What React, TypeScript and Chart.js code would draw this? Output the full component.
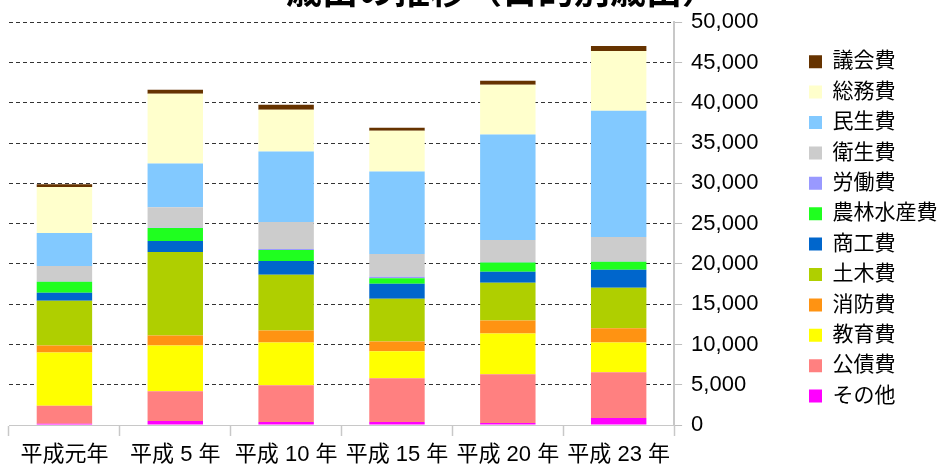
import React, { useEffect, useRef } from 'react';
import { Chart, registerables } from 'chart.js';

Chart.register(...registerables);

const TITLE = '歳出の推移（目的別歳出）';

const categories = ['平成元年', '平成 5 年', '平成 10 年', '平成 15 年', '平成 20 年', '平成 23 年'];

// bottom of the stack first
const sonota = [150, 490, 370, 370, 250, 860];
const kousaihi = [2230, 3710, 4570, 5430, 6050, 5680];
const kyouikuhi = [6630, 5680, 5310, 3340, 5060, 3710];
const shoubouhi = [870, 1230, 1480, 1230, 1600, 1770];
const dobokuhi = [5550, 10370, 6910, 5310, 4690, 5020];
const shoukouhi = [990, 1360, 1730, 1850, 1360, 2220];
const nourinhi = [1360, 1600, 1360, 700, 1150, 990];
const roudouhi = [40, 40, 120, 170, 60, 40];
const eiseihi = [1930, 2560, 3340, 2830, 2750, 3040];
const minseihi = [4080, 5430, 8760, 10250, 13090, 15680];
const soumuhi = [5710, 8640, 5190, 5060, 6170, 7410];
const gikaihi = [360, 490, 610, 370, 500, 620];

const seriesNames = ['その他', '公債費', '教育費', '消防費', '土木費', '商工費', '農林水産費', '労働費', '衛生費', '民生費', '総務費', '議会費'];
const seriesValues = [sonota, kousaihi, kyouikuhi, shoubouhi, dobokuhi, shoukouhi, nourinhi, roudouhi, eiseihi, minseihi, soumuhi, gikaihi];
const seriesColors = ['#ff00ff', '#ff8080', '#ffff00', '#ff9312', '#afcf00', '#0066cc', '#1fff1f', '#9999ff', '#cccccc', '#82c9ff', '#ffffcc', '#663300'];

const yMin = 0;
const yMax = 50000;
const yStep = 5000;

const FONT = '"Liberation Sans", "Noto Sans CJK JP", sans-serif';

const titlePlugin = {
  id: 'clippedTitle',
  afterDraw(chart: any) {
    const ctx = chart.ctx;
    ctx.save();
    ctx.font = 'bold 36px "Noto Sans CJK JP", sans-serif';
    ctx.fillStyle = '#000';
    ctx.textAlign = 'center';
    ctx.textBaseline = 'alphabetic';
    ctx.fillText(TITLE, 502, 4);
    ctx.restore();
  },
};

const legendPlacer = {
  id: 'legendPlacer',
  afterLayout(chart: any) {
    const lg = chart.legend;
    if (!lg) return;
    const w = lg.right - lg.left;
    lg.left = 799.6;
    lg.right = lg.left + w;
    lg.width = w;
    lg.top = 41.8;
    lg.bottom = 466;
    lg.height = lg.bottom - lg.top;
  },
};

export default function App() {
  const ref = useRef<HTMLCanvasElement | null>(null);

  useEffect(() => {
    if (!ref.current) return;
    const chart = new Chart(ref.current, {
      type: 'bar',
      data: {
        labels: categories,
        datasets: seriesNames.map((name, i) => ({
          label: name,
          data: seriesValues[i],
          backgroundColor: seriesColors[i],
          borderColor: seriesColors[i],
          borderWidth: 0,
          categoryPercentage: 0.5,
          barPercentage: 1.0,
        })),
      },
      options: {
        responsive: false,
        animation: false,
        layout: { padding: { left: 9, top: 20, right: 0, bottom: 1.5 } },
        plugins: {
          title: { display: false },
          tooltip: { enabled: false },
          legend: {
            display: true,
            position: 'right',
            align: 'start',
            reverse: true,
            labels: {
              boxWidth: 13,
              boxHeight: 13,
              padding: 9.4,
              color: '#000',
              font: { family: FONT, size: 21 },
            },
          },
        },
        scales: {
          x: {
            stacked: true,
            afterFit(scale: any) {
              scale.height = 39.5;
            },
            grid: {
              display: true,
              drawOnChartArea: false,
              drawTicks: true,
              tickLength: 11,
              tickColor: '#c8c8c8',
              tickWidth: 1.5,
              offset: true,
            },
            border: { display: true, color: '#c8c8c8', width: 1 },
            ticks: {
              color: '#000',
              padding: 8,
              font: { family: FONT, size: 22, lineHeight: 1 },
              maxRotation: 0,
              autoSkip: false,
            },
          },
          y: {
            stacked: true,
            position: 'right',
            min: yMin,
            max: yMax,
            afterFit(scale: any) {
              scale.width = 117;
            },
            grid: {
              color: (c: any) => (c.tick && c.tick.value === 0 ? '#9a9a9a' : '#333'),
              lineWidth: 1,
              drawTicks: true,
              tickLength: 8,
              tickColor: '#bdbdbd',
              tickWidth: 1,
              tickBorderDash: [],
            },
            border: { display: true, color: '#c8c8c8', width: 2, dash: [4, 3] },
            ticks: {
              stepSize: yStep,
              color: '#000',
              padding: 9,
              font: { family: FONT, size: 22 },
              callback: (v: any) => Number(v).toLocaleString('en-US'),
            },
          },
        },
      },
      plugins: [titlePlugin, legendPlacer],
    });
    return () => chart.destroy();
  }, []);

  return (
    <div style={{ position: 'fixed', left: 0, top: 0, width: 939, height: 466 }}>
      <canvas ref={ref} width={939} height={466} style={{ width: 939, height: 466, display: 'block' }} />
    </div>
  );
}
